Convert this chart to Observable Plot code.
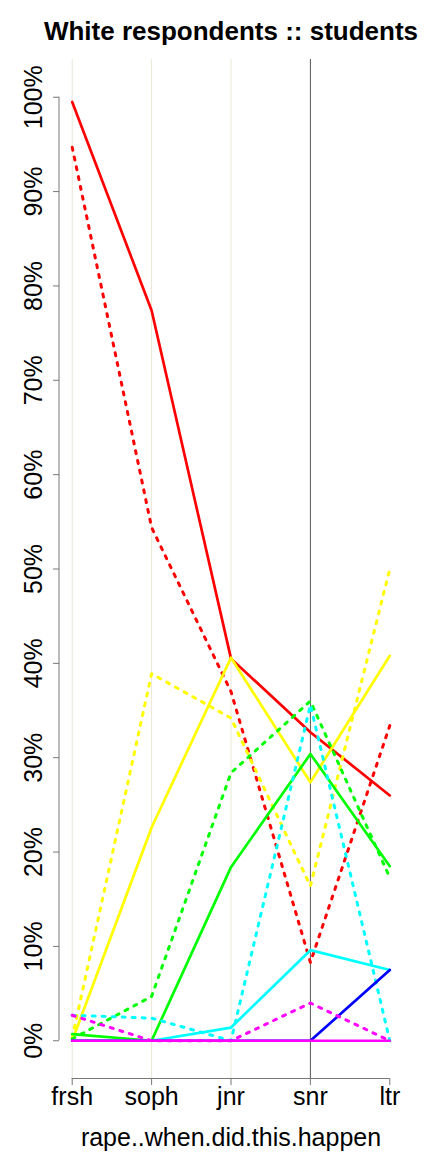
<!DOCTYPE html>
<html>
<head>
<meta charset="utf-8">
<script src="https://cdn.jsdelivr.net/npm/d3@7"></script>
<script src="https://cdn.jsdelivr.net/npm/@observablehq/plot@0.6"></script>
<style>
  html, body { margin: 0; padding: 0; background: #fff; }
  #chart svg { display: block; }
</style>
</head>
<body>
<div id="chart"></div>
<script>
// categories (x)
const categories = ["frsh", "soph", "jnr", "snr", "ltr"];
// y tick values
const yTicks = [0, 0.1, 0.2, 0.3, 0.4, 0.5, 0.6, 0.7, 0.8, 0.9, 1.0];

// series values (share of respondents), solid and dotted per colour
const redSolid      = [0.995, 0.774, 0.405, 0.327, 0.260];
const redDotted     = [0.947, 0.544, 0.370, 0.083, 0.334];
const yellowSolid   = [0.000, 0.226, 0.406, 0.274, 0.408];
const yellowDotted  = [0.003, 0.389, 0.342, 0.164, 0.500];
const greenSolid    = [0.007, 0.000, 0.184, 0.304, 0.185];
const greenDotted   = [0.002, 0.047, 0.284, 0.360, 0.173];
const cyanSolid     = [0.000, 0.000, 0.014, 0.096, 0.075];
const cyanDotted    = [0.027, 0.024, 0.000, 0.356, 0.000];
const blueSolid     = [0.000, 0.000, 0.000, 0.000, 0.075];
const magentaSolid  = [0.000, 0.000, 0.000, 0.000, 0.000];
const magentaDotted = [0.027, 0.000, 0.000, 0.040, 0.000];

const series = [
  {name: "red solid", color: "#FF0000", dotted: false, values: redSolid},
  {name: "red dotted", color: "#FF0000", dotted: true, values: redDotted},
  {name: "yellow solid", color: "#FFFF00", dotted: false, values: yellowSolid},
  {name: "yellow dotted", color: "#FFFF00", dotted: true, values: yellowDotted},
  {name: "green solid", color: "#00FF00", dotted: false, values: greenSolid},
  {name: "green dotted", color: "#00FF00", dotted: true, values: greenDotted},
  {name: "cyan solid", color: "#00FFFF", dotted: false, values: cyanSolid},
  {name: "cyan dotted", color: "#00FFFF", dotted: true, values: cyanDotted},
  {name: "blue solid", color: "#0000FF", dotted: false, values: blueSolid},
  {name: "magenta solid", color: "#FF00FF", dotted: false, values: magentaSolid},
  {name: "magenta dotted", color: "#FF00FF", dotted: true, values: magentaDotted}
];

const font = "'Liberation Sans', Arial, Helvetica, sans-serif";
const pad = 0.16; // R-style 4% axis extension on a 0..4 index range

const lineMarks = series.map(s => Plot.line(
  s.values.map((v, i) => ({i, v})),
  {
    x: "i", y: "v",
    stroke: s.color,
    strokeWidth: s.dotted ? 3 : 2.7,
    strokeDasharray: s.dotted ? "3,7" : null,
    strokeLinecap: "round",
    strokeLinejoin: "round"
  }
));

const chart = Plot.plot({
  width: 432,
  height: 1152,
  marginLeft: 59,
  marginRight: 30,
  marginTop: 59,
  marginBottom: 74,
  style: {fontFamily: font, background: "#fff", color: "#000"},
  x: {domain: [-pad, categories.length - 1 + pad], axis: null},
  y: {domain: [-0.04, 1.04], axis: null},
  marks: [
    // vertical guide lines
    Plot.ruleX([0, 1, 2], {stroke: "#EAE7D6", strokeWidth: 1}),
    Plot.ruleX([3], {stroke: "#555", strokeWidth: 1}),
    // series lines
    ...lineMarks,
    // y axis line + ticks
    Plot.ruleX([-pad], {y1: 0, y2: 1, stroke: "#777", strokeWidth: 1, dx: -0.5}),
    Plot.axisY({ticks: yTicks, tickSize: 6, fill: "none", stroke: "#777", label: null, anchor: "left"}),
    Plot.text(yTicks, {
      frameAnchor: "left", y: d => d,
      text: d => `${Math.round(d * 100)}%`,
      rotate: -90, textAnchor: "middle", lineAnchor: "middle",
      dx: -26, fontSize: 25, fill: "#000"
    }),
    // x axis line + ticks + labels
    Plot.ruleY([-0.04], {x1: 0, x2: categories.length - 1, stroke: "#777", strokeWidth: 1}),
    Plot.axisX({
      ticks: d3.range(categories.length),
      tickFormat: i => categories[i],
      tickSize: 7, tickPadding: 2, fontSize: 25,
      stroke: "#777", fill: "#000", label: null, anchor: "bottom"
    }),
    // axis title
    Plot.text(["rape..when.did.this.happen"], {
      frameAnchor: "bottom", text: d => d, lineAnchor: "middle",
      dy: 59, fontSize: 25, fill: "#000"
    }),
    // chart title
    Plot.text(["White respondents :: students"], {
      frameAnchor: "top", text: d => d, lineAnchor: "middle",
      dy: -28, fontSize: 26, fontWeight: "bold", fill: "#000"
    })
  ]
});

document.getElementById("chart").append(chart);
</script>
</body>
</html>
